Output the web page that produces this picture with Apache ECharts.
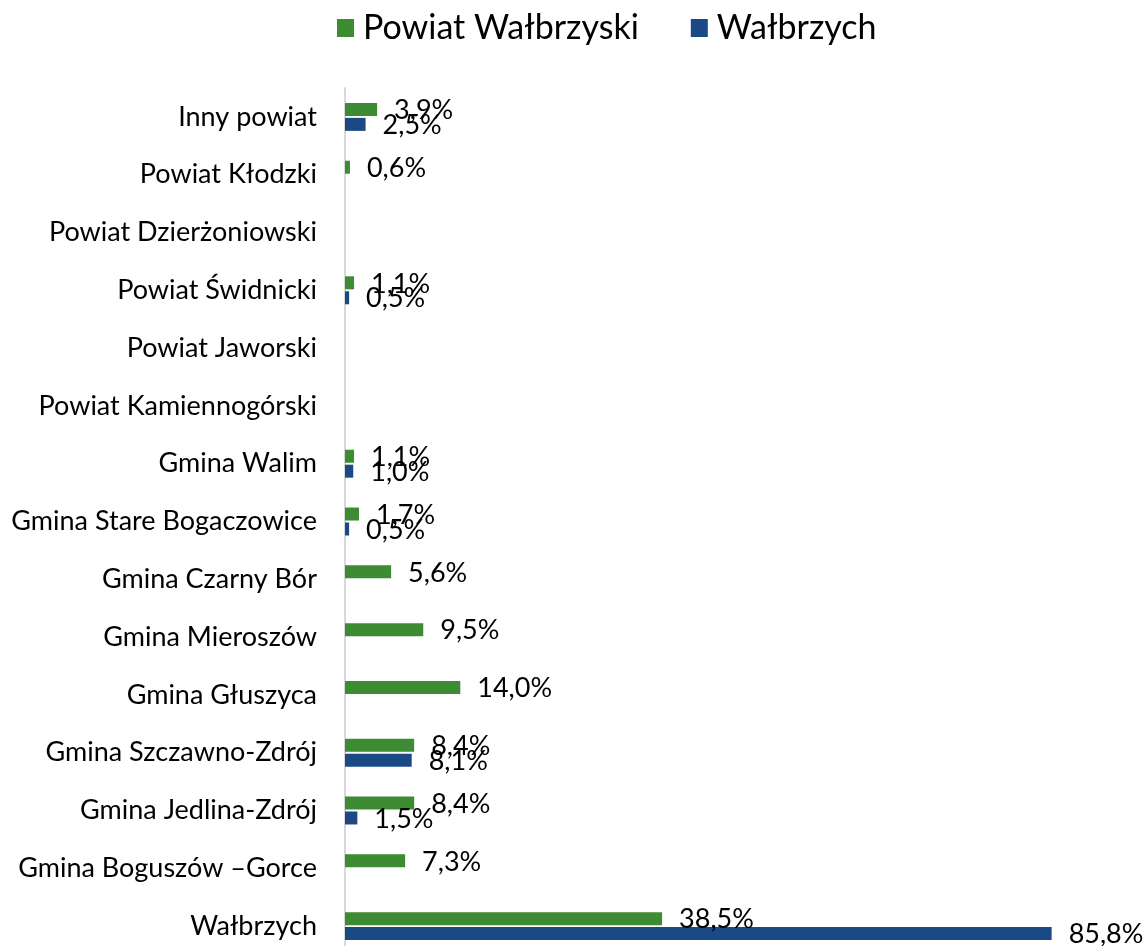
<!DOCTYPE html>
<html>
<head>
<meta charset="utf-8">
<script src="https://cdn.jsdelivr.net/npm/echarts@6/dist/echarts.min.js"></script>
<style>
html,body{margin:0;padding:0;background:#fff;overflow:hidden;}
#chart{width:1148px;height:955px;}
</style>
</head>
<body>
<div id="chart"></div>
<script>
const categories = [
  'Inny powiat',
  'Powiat Kłodzki',
  'Powiat Dzierżoniowski',
  'Powiat Świdnicki',
  'Powiat Jaworski',
  'Powiat Kamiennogórski',
  'Gmina Walim',
  'Gmina Stare Bogaczowice',
  'Gmina Czarny Bór',
  'Gmina Mieroszów',
  'Gmina Głuszyca',
  'Gmina Szczawno-Zdrój',
  'Gmina Jedlina-Zdrój',
  'Gmina Boguszów –Gorce',
  'Wałbrzych'
];
const seriesNames = ['Powiat Wałbrzyski', 'Wałbrzych'];
const powiatWalbrzyski = [3.9, 0.6, null, 1.1, null, null, 1.1, 1.7, 5.6, 9.5, 14.0, 8.4, 8.4, 7.3, 38.5];
const walbrzych = [2.5, null, null, 0.5, null, null, 1.0, 0.5, null, null, null, 8.1, 1.5, null, 85.8];

const FONT = 'Lato';
const fmt = p => p.value.toFixed(1).replace('.', ',') + '%';

const chart = echarts.init(document.getElementById('chart'), null, {renderer: 'canvas'});
const labelCfg = {
  show: true,
  position: 'right',
  distance: 17,
  offset: [0, 1],
  formatter: fmt,
  color: '#000',
  fontFamily: FONT,
  fontSize: 27
};
chart.setOption({
  animation: false,
  backgroundColor: '#fff',
  legend: {
    top: 11,
    left: 337,
    padding: 0,
    icon: 'rect',
    itemWidth: 17,
    itemHeight: 18,
    itemGap: 52,
    textStyle: {fontFamily: FONT, fontSize: 34, lineHeight: 34, color: '#000', padding: [0, 0, 0, 4]},
    data: seriesNames
  },
  grid: {left: 345, top: 88, right: 0, bottom: 0, containLabel: false},
  xAxis: {
    type: 'value',
    min: 0,
    max: 97.5,
    show: false
  },
  yAxis: {
    type: 'category',
    inverse: true,
    data: categories,
    axisLine: {show: true, lineStyle: {color: '#D9D9D9', width: 2}},
    axisTick: {show: false},
    axisLabel: {color: '#000', fontFamily: FONT, fontSize: 27, margin: 28}
  },
  series: [
    {
      name: seriesNames[0],
      type: 'bar',
      data: powiatWalbrzyski,
      barWidth: 13,
      barGap: '15%',
      itemStyle: {color: '#3D8B32'},
      label: labelCfg
    },
    {
      name: seriesNames[1],
      type: 'bar',
      data: walbrzych,
      barWidth: 13,
      barGap: '15%',
      itemStyle: {color: '#1B4985'},
      label: labelCfg
    }
  ]
});
</script>
</body>
</html>
